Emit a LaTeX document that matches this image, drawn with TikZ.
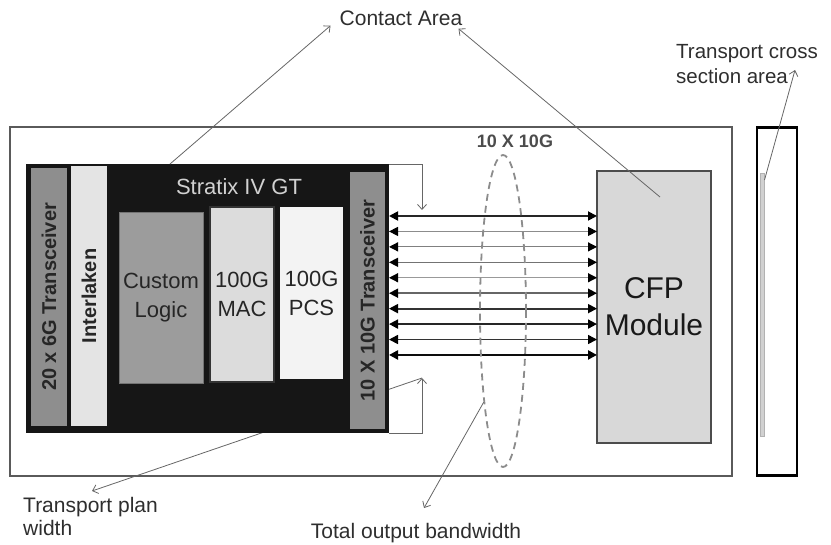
\documentclass[tikz,border=0pt]{standalone}
\usepackage{fontspec}
\setmainfont{Liberation Sans}
\usepackage{tikz}
\usetikzlibrary{shapes.geometric, arrows.meta, positioning, calc}
\definecolor{framegray}{HTML}{5A5A5A}
\definecolor{chipblack}{HTML}{161616}
\definecolor{xcvrgray}{HTML}{8E8E8E}
\definecolor{ilkngray}{HTML}{E4E4E4}
\definecolor{logicgray}{HTML}{9C9C9C}
\definecolor{macgray}{HTML}{DCDCDC}
\definecolor{pcsgray}{HTML}{F3F3F3}
\definecolor{cfpgray}{HTML}{D8D8D8}
\definecolor{labeltext}{HTML}{2E2E2E}
\tikzstyle{block} = [rectangle, inner sep=0pt, outer sep=0pt, text centered, align=center]
\tikzstyle{strip} = [block, rotate=90, minimum height=36pt, fill=xcvrgray, font=\fontsize{20}{24}\selectfont\bfseries, text=black!85]
\tikzstyle{core} = [block, font=\fontsize{22}{29}\selectfont, text=black!85]
\tikzstyle{note} = [inner sep=0pt, font=\fontsize{21}{23}\selectfont, text=labeltext]
\tikzstyle{pointer} = [line width=0.8pt, draw=black!60, -{Straight Barb[length=5pt,width=9pt]}]
\tikzstyle{lane} = [{Triangle[length=9pt,width=9pt,color=black]}-{Triangle[length=9pt,width=9pt,color=black]}]

\begin{document}
\begin{tikzpicture}[x=1pt, y=-1pt]
    \useasboundingbox (0,0) rectangle (831,545);
    \coordinate (topmark) at (422,210);
    \coordinate (botmark) at (422,378);
    \coordinate (plantip) at (92,491);
    \coordinate (chiptop) at (170,164);
    \coordinate (cfpspot) at (660,197);
    \coordinate (crosstip) at (795,70);

    \node[block, draw=framegray, line width=1.2pt, minimum width=722pt, minimum height=349pt] (board) at (371,301.5) {};
    \node[block, draw=black, line width=2.4pt, minimum width=40pt, minimum height=348pt] (section) at (777,301.5) {};
    \node[block, fill=black!18, draw=black!30, minimum width=4pt, minimum height=263pt] (slice) at (762.5,304.5) {};

    \draw[pointer] (botmark) -- (plantip);
    \node[block, fill=chipblack, minimum width=363pt, minimum height=269pt] (chip) at (207.5,298.5) {};
    \node[strip, minimum width=258pt] (hostxcvr) at (49,297) {20 x 6G Transceiver};
    \node[strip, minimum width=260pt, fill=ilkngray] (ilkn) at (89,296) {Interlaken};
    \node[strip, minimum width=257pt, minimum height=35pt] (linexcvr) at (367.5,300.5) {10 X 10G Transceiver};
    \node[font=\fontsize{22}{24}\selectfont, text=black!18] (stratix) at (239,187) {Stratix IV GT};
    \node[core, fill=logicgray, draw=black!55, minimum width=84pt, minimum height=171pt] (logic) at (161,297.5) {Custom\\Logic};
    \node[core, fill=macgray, draw=black!40, double=black!80, double distance=1.2pt, minimum width=64pt, minimum height=175pt] (mac) at (242,294.5) {100G\\MAC};
    \node[core, fill=pcsgray, minimum width=63pt, minimum height=172pt] (pcs) at (311.5,293) {100G\\PCS};

    \node[block, fill=cfpgray, draw=black!70, line width=1.2pt, minimum width=114pt, minimum height=272pt, font=\fontsize{30}{37}\selectfont, text=black!90] (cfp) at (654,307) {CFP\\Module};

    \foreach \i/\shade/\lw in {0/85/1.8,1/45/1.2,2/50/1.2,3/55/1.4,4/40/1.2,5/60/1.5,6/80/1.8,7/85/1.8,8/80/1.6,9/95/2.2} {
        \pgfmathsetmacro{\y}{216+15.44*\i}
        \draw[lane, black!\shade, line width=\lw pt] (chip.east |- 0,\y) -- (cfp.west |- 0,\y);
    }

    \node[ellipse, draw=black!45, dashed, dash pattern=on 7pt off 5pt, line width=1.8pt, minimum width=46pt, minimum height=312pt, inner sep=0pt] (bundle) at (503,311) {};
    \node[font=\fontsize{18}{20}\selectfont\bfseries, text=black!70, above=3pt of bundle, xshift=12pt] (bundlelbl) {10 X 10G};

    \draw[pointer] (chip.north east) -| (topmark);
    \draw[pointer] (chip.south east) -| (botmark);

    \node[note] (contact) at (401,18) {Contact Area};
    \node[note, align=left, anchor=north west] (planlbl) at (23,497) {Transport plan\\width};
    \node[note] (bwlbl) at (416,533) {Total output bandwidth};
    \node[note, align=left, anchor=north west, font=\fontsize{20.5}{25}\selectfont] (crosslbl) at (676,44) {Transport cross\\section area};

    \draw[pointer] (chiptop) -- ([xshift=-9pt]contact.south west);
    \draw[pointer] (cfpspot) -- ([xshift=-4pt,yshift=-3pt]contact.south east);
    \draw[pointer] (bundle.258) -- ([xshift=8pt,yshift=15pt]bwlbl.north);
    \draw[pointer] ([yshift=-7pt]slice.north east) -- (crosstip);
\end{tikzpicture}
\end{document}
